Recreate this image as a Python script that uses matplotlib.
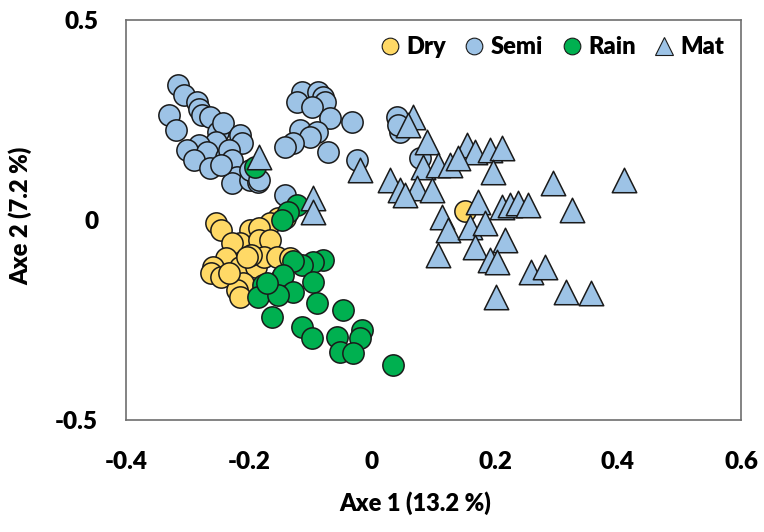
import matplotlib.pyplot as plt
from matplotlib.lines import Line2D

plt.rcParams['font.family'] = ['Lato', 'DejaVu Sans']
plt.rcParams['font.weight'] = 'heavy'

# PCA scores (axe 1, axe 2) per group
semi_x = [-0.315, -0.305, -0.284, -0.282, -0.276, -0.330, -0.318, -0.264, -0.251, -0.243,
          -0.215, -0.212, -0.253, -0.281, -0.300, -0.268, -0.237, -0.232, -0.289, -0.264,
          -0.227, -0.220, -0.227, -0.199, -0.186, -0.199, -0.245,
          -0.114, -0.088, -0.080, -0.077, -0.122, -0.098, -0.069, -0.033, -0.117, -0.090,
          -0.101, -0.129, -0.142, -0.072, -0.024,
          0.041, 0.046, 0.042, 0.078, -0.142, -0.183]
semi_y = [0.338, 0.313, 0.295, 0.278, 0.263, 0.263, 0.225, 0.258, 0.220, 0.243,
          0.213, 0.193, 0.195, 0.188, 0.175, 0.170, 0.158, 0.175, 0.150, 0.130,
          0.150, 0.108, 0.093, 0.100, 0.095, 0.125, 0.138,
          0.320, 0.320, 0.308, 0.295, 0.295, 0.283, 0.255, 0.245, 0.225, 0.220,
          0.208, 0.193, 0.183, 0.170, 0.150,
          0.258, 0.220, 0.238, 0.155, 0.063, 0.100]

dry_x = [-0.253, -0.245, -0.153, -0.166, -0.199, -0.183, -0.215, -0.227, -0.183, -0.166,
         -0.237, -0.215, -0.259, -0.261, -0.245, -0.188, -0.175, -0.155, -0.210, -0.220,
         -0.215, -0.147, -0.134, -0.196, -0.232, -0.204, -0.142, 0.152]
dry_y = [-0.008, -0.025, 0.005, -0.008, -0.025, -0.020, -0.058, -0.058, -0.050, -0.050,
         -0.095, -0.118, -0.118, -0.133, -0.143, -0.118, -0.093, -0.093, -0.158, -0.175,
         -0.193, -0.143, -0.095, -0.088, -0.133, -0.093, 0.005, 0.023]

rain_x = [-0.191, -0.122, -0.137, -0.147, -0.080, -0.096, -0.114, -0.129, -0.145, -0.096,
          -0.129, -0.178, -0.186, -0.153, -0.171, -0.163, -0.090, -0.047, -0.113, -0.098,
          -0.057, -0.016, -0.020, -0.052, -0.031, 0.034]
rain_y = [0.133, 0.038, 0.020, 0.000, -0.100, -0.105, -0.113, -0.103, -0.138, -0.155,
          -0.180, -0.163, -0.193, -0.188, -0.158, -0.243, -0.208, -0.225, -0.268, -0.295,
          -0.293, -0.275, -0.295, -0.330, -0.333, -0.363]

mat_x = [-0.183, -0.096, -0.096, -0.020, 0.067, 0.059, 0.090, 0.155, 0.168, 0.192,
         0.212, 0.196, 0.083, 0.108, 0.127, 0.140, 0.029, 0.046, 0.073, 0.098,
         0.294, 0.326, 0.114, 0.124, 0.173, 0.160, 0.184, 0.212, 0.225, 0.237,
         0.253, 0.217, 0.168, 0.192, 0.204, 0.108, 0.258, 0.282, 0.315, 0.356,
         0.201, 0.409, 0.054]
mat_y = [0.158, 0.055, 0.020, 0.125, 0.258, 0.238, 0.195, 0.188, 0.170, 0.175,
         0.180, 0.120, 0.133, 0.138, 0.138, 0.155, 0.100, 0.075, 0.080, 0.075,
         0.093, 0.025, 0.008, -0.025, 0.045, -0.018, -0.008, 0.033, 0.038, 0.043,
         0.038, -0.050, -0.068, -0.100, -0.105, -0.088, -0.130, -0.118, -0.180, -0.183,
         -0.193, 0.100, 0.063]

c_dry = '#FFD966'
c_semi = '#9DC3E6'
c_rain = '#00B050'
edge = '#1a1a1a'

fig = plt.figure(figsize=(7.64, 5.32), dpi=100)
ax = fig.add_axes([0.1649, 0.2105, 0.805, 0.752])

ax.scatter(semi_x, semi_y, s=235, marker='o', facecolor=c_semi, edgecolor=edge, linewidth=1.1, zorder=2)
ax.scatter(dry_x, dry_y, s=235, marker='o', facecolor=c_dry, edgecolor=edge, linewidth=1.1, zorder=3)
ax.scatter(rain_x, rain_y, s=235, marker='o', facecolor=c_rain, edgecolor=edge, linewidth=1.1, zorder=4)
ax.scatter(mat_x, mat_y, s=310, marker='^', facecolor=c_semi, edgecolor=edge, linewidth=1.1, zorder=5)

ax.set_xlim(-0.4, 0.6)
ax.set_ylim(-0.5, 0.5)
ax.set_xticks([-0.4, -0.2, 0, 0.2, 0.4, 0.6], ['-0.4', '-0.2', '0', '0.2', '0.4', '0.6'])
ax.set_yticks([-0.5, 0, 0.5], ['-0.5', '0', '0.5'])
ax.tick_params(axis='x', length=0, pad=22, labelsize=17.5)
ax.tick_params(axis='y', length=0, pad=20, labelsize=17.5)
for sp in ax.spines.values():
    sp.set_color('#6e6e6e')
    sp.set_linewidth(1.2)

ax.set_xlabel('Axe 1 (13.2 %)', fontsize=17, fontweight='heavy')
ax.set_ylabel('Axe 2 (7.2 %)', fontsize=17, fontweight='heavy')
ax.xaxis.set_label_coords(0.47, -0.178)
ax.yaxis.set_label_coords(-0.152, 0.51)

handles = [
    Line2D([], [], ls='none', marker='o', ms=12, mfc=c_dry, mec=edge, mew=0.8, label='Dry'),
    Line2D([], [], ls='none', marker='o', ms=12, mfc=c_semi, mec=edge, mew=0.8, label='Semi'),
    Line2D([], [], ls='none', marker='o', ms=12, mfc=c_rain, mec=edge, mew=0.8, label='Rain'),
    Line2D([], [], ls='none', marker='^', ms=13, mfc=c_semi, mec=edge, mew=0.8, label='Mat'),
]
ax.legend(handles=handles, loc='upper right', ncol=4, frameon=False,
          handlelength=0.8, handletextpad=0.3, columnspacing=0.8,
          borderaxespad=0.3, prop={'weight': 'heavy', 'size': 17})

fig.savefig('out.png', dpi=100)
